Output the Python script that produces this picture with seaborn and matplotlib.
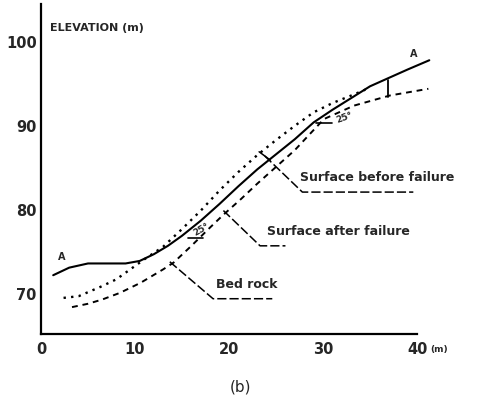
import numpy as np
import pandas as pd
import matplotlib
matplotlib.use("Agg")
import matplotlib.pyplot as plt
import seaborn as sns

# Surface after failure (solid, section A-A)
after_x = [1.3, 3, 5, 7, 9, 10.5, 12, 13.5, 15, 17, 19, 21, 23, 25, 27, 29, 31, 33, 35, 37, 39, 41.3]
after_y = [72.1, 73.0, 73.5, 73.5, 73.5, 73.8, 74.6, 75.6, 76.8, 78.6, 80.6, 82.7, 84.7, 86.5, 88.3, 90.3, 91.8, 93.2, 94.6, 95.6, 96.6, 97.7]

# Surface before failure (dotted)
before_x = [2.4, 4, 6.3, 8, 9.5, 11, 13, 15, 17, 19, 21, 23, 25, 27, 29, 31, 33, 34.5]
before_y = [69.4, 69.6, 70.7, 71.6, 72.8, 74.0, 75.5, 77.6, 79.8, 82.2, 84.4, 86.4, 88.2, 89.9, 91.5, 92.6, 93.5, 94.2]

# Bed rock (dashed)
rock_x = [3.3, 5, 6.5, 8.4, 10.6, 13, 14.1, 16, 18, 19.4, 21.3, 23, 25, 27, 28.5, 30.1, 33.3, 37.1, 41.2]
rock_y = [68.3, 68.7, 69.2, 70.0, 71.2, 72.8, 73.6, 75.6, 77.8, 79.3, 81.2, 83.0, 85.0, 87.0, 88.8, 90.7, 92.3, 93.5, 94.3]

x_ticks = [0, 10, 20, 30, 40]
y_ticks = [70, 80, 90, 100]

sns.set_style("white")
plt.rcParams['font.family'] = ['DejaVu Sans']

fig = plt.figure(figsize=(4.81, 4.06), dpi=100)
ax = fig.add_axes([0.0852, 0.1749, 0.821, 0.8128])

df_after = pd.DataFrame({"x": after_x, "y": after_y})
df_before = pd.DataFrame({"x": before_x, "y": before_y})
df_rock = pd.DataFrame({"x": rock_x, "y": rock_y})

sns.lineplot(data=df_after, x="x", y="y", sort=False, color="black", lw=1.5, ax=ax, clip_on=False)
sns.lineplot(data=df_before, x="x", y="y", sort=False, color="black", lw=1.7,
             linestyle=(0, (1, 2.2)), ax=ax, clip_on=False)
sns.lineplot(data=df_rock, x="x", y="y", sort=False, color="black", lw=1.4,
             linestyle=(0, (3, 2.5)), ax=ax, clip_on=False)

ax.set_xlim(0, 42)
ax.set_ylim(65.1, 104.4)
ax.set_xticks(x_ticks)
ax.set_yticks(y_ticks)
ax.set_xticklabels([str(v) for v in x_ticks], fontsize=10.5, fontweight="bold")
ax.set_yticklabels([str(v) for v in y_ticks], fontsize=10.5, fontweight="bold")
ax.tick_params(axis="both", direction="in", length=5, width=1.3, color="black")
ax.tick_params(axis="x", pad=5)
ax.tick_params(axis="y", pad=3)
for s in ["top", "right"]:
    ax.spines[s].set_visible(False)
for s in ["left", "bottom"]:
    ax.spines[s].set_color("black")
    ax.spines[s].set_linewidth(1.6)
ax.spines["bottom"].set_bounds(0, 40)
ax.set_xlabel("")
ax.set_ylabel("")

ax.text(41.4, 65.1 - 1.7, "(m)", fontsize=6.5, fontweight="bold", ha="left", va="center", clip_on=False)
ax.text(1.0, 101.7, "ELEVATION (m)", fontsize=8, fontweight="bold", ha="left", va="center")

# Section markers
ax.text(2.2, 74.4, "A", fontsize=7, fontweight="bold", ha="center", va="center")
ax.text(39.6, 98.6, "A", fontsize=7, fontweight="bold", ha="center", va="center", clip_on=False)

leader = dict(color="black", lw=1.1, linestyle=(0, (6, 2)), clip_on=False)
# Surface before failure
ax.plot([23.8, 27.8, 39.6], [86.3, 82.0, 82.0], **leader)
ax.plot([23.2, 24.4], [86.8, 85.8], color="black", lw=1.1)
ax.text(27.6, 83.8, "Surface before failure", fontsize=9, fontweight="bold", ha="left", va="center", clip_on=False)
# Surface after failure
ax.plot([19.4, 23.3, 26.0], [79.8, 75.6, 75.6], **leader)
ax.text(24.0, 77.4, "Surface after failure", fontsize=9, fontweight="bold", ha="left", va="center", clip_on=False)
# Bed rock
ax.plot([13.7, 18.3, 24.6], [73.7, 69.3, 69.3], **leader)
ax.text(18.6, 71.1, "Bed rock", fontsize=9, fontweight="bold", ha="left", va="center")

# Angle marks
ax.plot([29.2, 31.0], [90.2, 90.2], color="black", lw=1.2)
ax.text(31.3, 91.0, "25°", fontsize=6.5, fontweight="bold", ha="left", va="center", rotation=20)
ax.plot([15.6, 17.2], [76.5, 76.5], color="black", lw=1.2)
ax.text(16.0, 77.6, "25°", fontsize=6.5, fontweight="bold", ha="left", va="center", rotation=30)
ax.plot([36.9, 36.9], [95.4, 93.3], color="black", lw=1.3)

fig.text(0.499, 0.047, "(b)", fontsize=11, ha="center", va="center")

fig.savefig("out.png", dpi=100)
